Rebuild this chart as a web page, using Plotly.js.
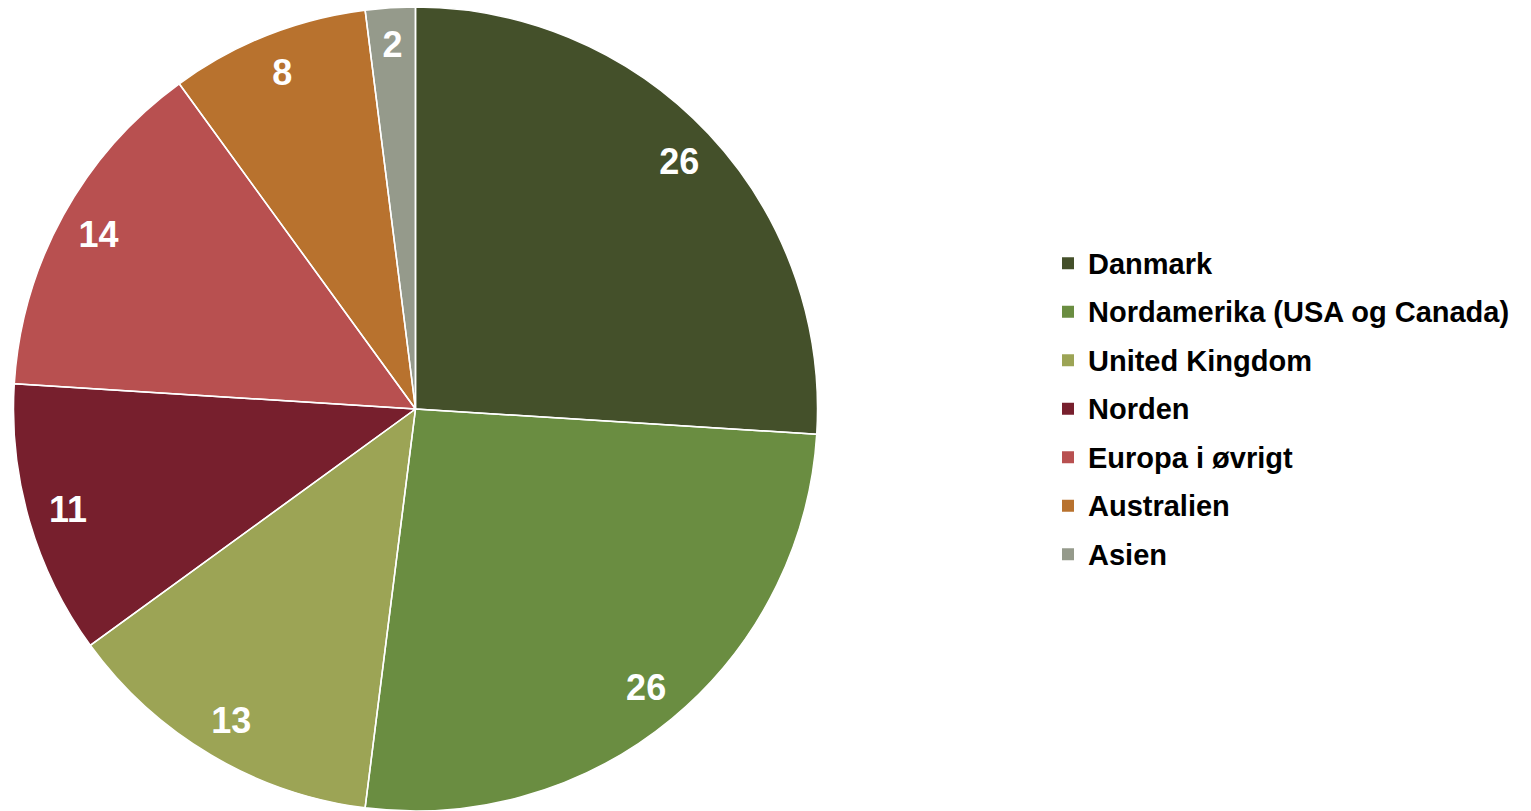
<!DOCTYPE html>
<html>
<head>
<meta charset="utf-8">
<script src="https://cdn.plot.ly/plotly-3.0.1.min.js"></script>
<style>
html,body{margin:0;padding:0;background:#fff;}
#chart{width:1531px;height:811px;}
</style>
</head>
<body>
<div id="chart"></div>
<script>
const categories = ["Danmark", "Nordamerika (USA og Canada)", "United Kingdom", "Norden", "Europa i øvrigt", "Australien", "Asien"];
const values = [26, 26, 13, 11, 14, 8, 2];
const sliceColors = ["#44502a", "#6a8d41", "#9ca455", "#771f2d", "#b85050", "#b8722e", "#959a8b"];

const W = 1531, H = 811;
const TOP = 7;
const plotH = H - TOP;
const cx = 415.5, R = 402;
const domainX = [(cx - R) / W, (cx + R) / W];
// inner domain used only to place the label of very thin slices a little closer to the centre
const Rs = 388;
const domainXs = [(cx - Rs) / W, (cx + Rs) / W];
const domainYs = [(plotH / 2 - Rs) / plotH, (plotH / 2 + Rs) / plotH];

const legendLabels = categories.map(c => '<span style="font-size:29px;baseline-shift:3px">' + c + '</span>');
const transparent = sliceColors.map(() => 'rgba(0,0,0,0)');
const txtFont = {family: 'Liberation Sans, Arial, sans-serif', size: 36, color: '#ffffff', weight: 'bold'};

const common = {
  type: 'pie',
  labels: legendLabels,
  values: values,
  sort: false,
  direction: 'clockwise',
  rotation: 0
};

// filled slices (legend source)
const pieMain = Object.assign({}, common, {
  marker: {colors: sliceColors, line: {width: 0}},
  textinfo: 'none',
  hoverinfo: 'label+value',
  domain: {x: domainX, y: [0, 1]},
  showlegend: true
});

// white borders between slices
const pieBorders = Object.assign({}, common, {
  marker: {colors: transparent, line: {color: '#ffffff', width: 1.5}},
  textinfo: 'none',
  hoverinfo: 'skip',
  domain: {x: domainX, y: [0, 1]},
  showlegend: false
});

// value labels for normal slices (ring keeps them near the rim)
const pieText = Object.assign({}, common, {
  hole: 0.8,
  marker: {colors: transparent, line: {width: 0}},
  texttemplate: values.map(v => v >= 5 ? '%{value}' : ''),
  textposition: 'inside',
  insidetextorientation: 'horizontal',
  insidetextfont: txtFont,
  hoverinfo: 'skip',
  domain: {x: domainX, y: [0, 1]},
  showlegend: false
});

// value labels for thin slices
const pieTextSmall = Object.assign({}, common, {
  hole: 0.8,
  marker: {colors: transparent, line: {width: 0}},
  texttemplate: values.map(v => v < 5 ? '%{value}' : ''),
  textposition: 'inside',
  insidetextorientation: 'horizontal',
  insidetextfont: txtFont,
  hoverinfo: 'skip',
  domain: {x: domainXs, y: domainYs},
  showlegend: false
});

const layout = {
  width: W,
  height: H,
  margin: {l: 0, r: 0, t: TOP, b: 0},
  paper_bgcolor: '#ffffff',
  plot_bgcolor: '#ffffff',
  showlegend: true,
  legend: {
    x: 1048 / W,
    xanchor: 'left',
    y: 0.5,
    yanchor: 'middle',
    font: {family: 'Liberation Sans, Arial, sans-serif', size: 35, color: '#000000', weight: 'bold'},
    bgcolor: 'rgba(0,0,0,0)',
    borderwidth: 0
  }
};

Plotly.newPlot('chart', [pieMain, pieBorders, pieText, pieTextSmall], layout, {displayModeBar: false, staticPlot: true});
</script>
</body>
</html>
